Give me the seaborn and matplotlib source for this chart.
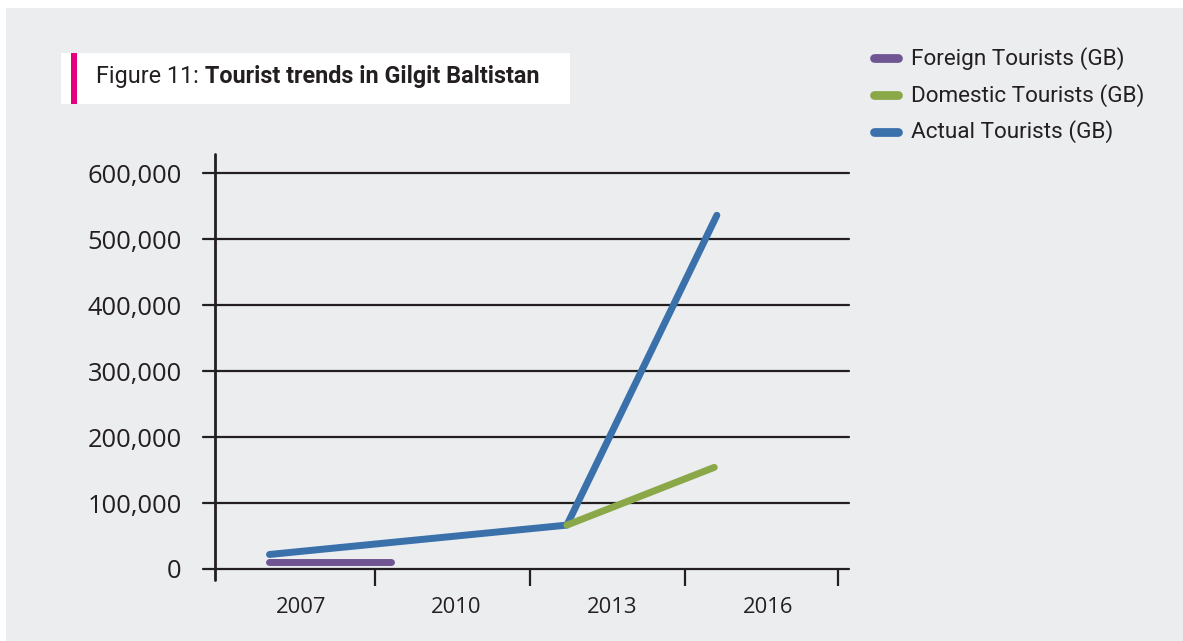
import matplotlib
matplotlib.use("Agg")
import matplotlib.pyplot as plt
from matplotlib.patches import Rectangle
from matplotlib.lines import Line2D
from matplotlib.ticker import FixedLocator, FuncFormatter
import numpy as np
import pandas as pd
import seaborn as sns

# --- data -------------------------------------------------------------
series_names = ["Foreign Tourists (GB)", "Domestic Tourists (GB)", "Actual Tourists (GB)"]
series_colors = ["#6F5592", "#8AA848", "#3A71AB"]

foreign_years = [2006.55, 2008.9]
foreign_values = [10600, 10600]

domestic_years = [2012.28, 2015.12]
domestic_values = [66500, 154000]

actual_years = [2006.55, 2012.28, 2015.17]
actual_values = [22000, 66500, 536000]

year_labels = [2007, 2010, 2013, 2016]
y_ticks = [0, 100000, 200000, 300000, 400000, 500000, 600000]

# --- styling ----------------------------------------------------------
W, H, DPI = 1183, 641, 100
BG = "#ECEDEF"
INK = "#231F20"
MAGENTA = "#E6007E"

sns.set_theme(style="white")
plt.rcParams["font.family"] = ["Open Sans", "DejaVu Sans"]
NARROW = ["Roboto", "DejaVu Sans"]

df = pd.concat([
    pd.DataFrame({"year": foreign_years, "tourists": foreign_values, "series": series_names[0]}),
    pd.DataFrame({"year": domestic_years, "tourists": domestic_values, "series": series_names[1]}),
    pd.DataFrame({"year": actual_years, "tourists": actual_values, "series": series_names[2]}),
], ignore_index=True)
palette = dict(zip(series_names, series_colors))

fig = plt.figure(figsize=(W / DPI, H / DPI), dpi=DPI, facecolor="white")

# grey panel behind everything
fig.patches.append(Rectangle((6 / W, 0), 1 - 6 / W, (H - 8) / H,
                             transform=fig.transFigure, facecolor=BG,
                             edgecolor="none", zorder=-10))

# plotting area in pixels: x 215..849, y 154..569 (from top)
ax_left, ax_right, ax_top, ax_bottom = 215, 849, 154, 569
ax = fig.add_axes([ax_left / W, (H - ax_bottom) / H,
                   (ax_right - ax_left) / W, (ax_bottom - ax_top) / H])
ax.patch.set_alpha(0)

x0 = 2005.5
px_per_year = 51.9
ax.set_xlim(x0, x0 + (ax_right - ax_left) / px_per_year)
ax.set_ylim(0, 628800)

# lines: foreign first, actual over it, domestic on top
sns.lineplot(data=df, x="year", y="tourists", hue="series",
             hue_order=[series_names[0], series_names[2], series_names[1]],
             palette=palette, linewidth=5, solid_capstyle="round",
             estimator=None, sort=True, legend=False, ax=ax, zorder=5)

for s in ax.spines.values():
    s.set_visible(False)

# horizontal gridlines plus baseline
axis_lw = 1.6
for v in y_ticks:
    ax.axhline(v, xmin=-12 / (ax_right - ax_left), xmax=1, color=INK,
               lw=axis_lw, clip_on=False, zorder=2)
# vertical axis line, running slightly below the baseline
ax.axvline(x0, ymin=-11 / (ax_bottom - ax_top), ymax=1, color=INK,
           lw=axis_lw + 0.4, clip_on=False, zorder=2)

ax.set_yticks(y_ticks)
ax.yaxis.set_major_formatter(FuncFormatter(lambda v, p: f"{int(v):,}"))
ax.tick_params(axis="y", length=0, pad=24, labelsize=18.4, labelcolor=INK)

# x axis: bin boundaries as tick marks, year labels in between
ax.xaxis.set_major_locator(FixedLocator([2008.58, 2011.57, 2014.56, 2017.5]))
ax.xaxis.set_major_formatter(FuncFormatter(lambda v, p: ""))
ax.xaxis.set_minor_locator(FixedLocator([y + 0.15 for y in year_labels]))
ax.xaxis.set_minor_formatter(FuncFormatter(
    lambda v, p: str(int(round(v - 0.15)))))
ax.tick_params(axis="x", which="major", direction="out", length=12.5,
               width=axis_lw, color=INK, bottom=True)
ax.tick_params(axis="x", which="minor", length=0, pad=20, labelsize=15.8,
               labelcolor=INK, bottom=True)
ax.set_xlabel("")
ax.set_ylabel("")
ax.grid(False)

# --- title box --------------------------------------------------------
fig.patches.append(Rectangle((61 / W, (H - 104) / H), 509 / W, 51 / H,
                             transform=fig.transFigure, facecolor="white",
                             edgecolor="none", zorder=-5))
fig.patches.append(Rectangle((71 / W, (H - 104) / H), 6 / W, 51 / H,
                             transform=fig.transFigure, facecolor=MAGENTA,
                             edgecolor="none", zorder=-4))
t1 = fig.text(96 / W, (H - 83) / H, "Figure 11:", family=NARROW,
              fontsize=16.8, color=INK, va="baseline", ha="left")
ax.annotate(" Tourist trends in Gilgit Baltistan", xy=(1, 0),
            xycoords=t1, va="bottom", ha="left", family=NARROW,
            fontsize=16.8, fontweight="semibold", color=INK,
            annotation_clip=False)

# --- legend -----------------------------------------------------------
rows_y = [58.3, 95.0, 131.7]
for name, color, ry in zip(series_names, series_colors, rows_y):
    fig.add_artist(Line2D([873.5 / W, 897.5 / W], [(H - ry) / H] * 2,
                          transform=fig.transFigure, color=color, lw=6.3,
                          solid_capstyle="round"))
    fig.text(911 / W, (H - ry - 6.5) / H, name, family=NARROW, fontsize=16.2,
             color=INK, va="baseline", ha="left")

fig.savefig("out.png", dpi=DPI, facecolor=fig.get_facecolor())
